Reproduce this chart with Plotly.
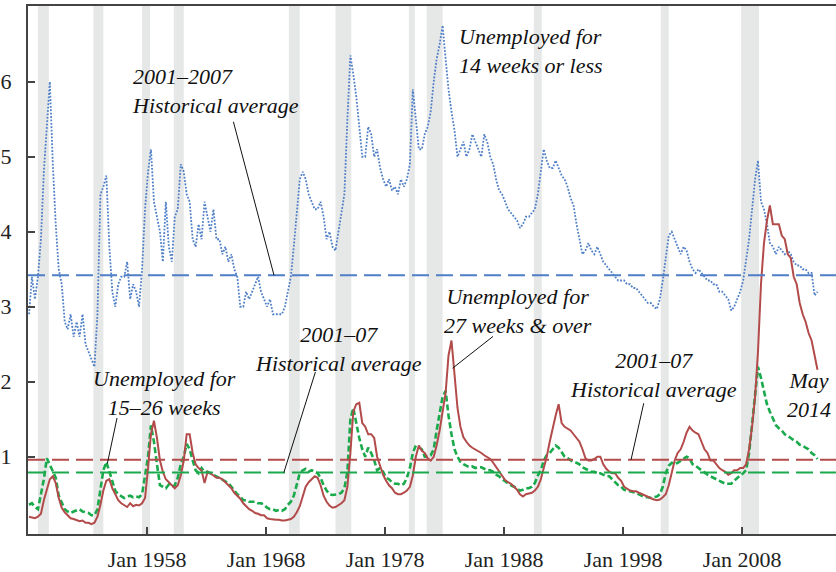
import pandas as pd
import plotly.graph_objects as go

# quarterly readings (Feb, May, Aug, Nov), % of labour force
dates = pd.date_range("1948-02-01", "2014-05-01", freq="3MS")

short_term = [  # unemployed 14 weeks or less
    2.9, 3.4, 3.1, 3.4,   3.9, 4.8, 5.4, 6.0,   4.9, 4.1, 3.5, 3.3,
    2.8, 2.7, 2.9, 2.6,   2.8, 2.6, 2.9, 2.5,   2.4, 2.3, 2.2, 2.9,
    4.5, 4.6, 4.75, 3.8,  3.2, 3.0, 3.3, 3.4,   3.4, 3.6, 3.1, 3.3,
    3.2, 3.0, 3.5, 4.3,   4.8, 5.1, 4.4, 4.2,   4.0, 3.6, 4.4, 3.8,
    3.6, 4.2, 4.3, 4.9,   4.8, 4.5, 4.4, 3.9,   3.8, 4.1, 3.9, 4.4,
    4.2, 4.0, 4.3, 3.9,   3.9, 3.7, 3.8, 3.6,   3.7, 3.5, 3.4, 3.0,
    3.0, 3.2, 3.1, 3.2,   3.3, 3.4, 3.2, 3.1,   3.0, 3.1, 2.9, 2.9,
    2.9, 2.9, 3.0, 3.2,   3.4, 3.8, 4.2, 4.7,   4.8, 4.7, 4.5, 4.4,
    4.3, 4.3, 4.4, 4.2,   3.9, 4.0, 3.8, 3.75,  4.0, 4.3, 4.5, 5.5,
    6.35, 6.1, 5.8, 5.4,  5.0, 5.0, 5.4, 5.3,   5.0, 5.1, 4.85, 4.7,
    4.6, 4.7, 4.55, 4.6,  4.5, 4.7, 4.6, 4.7,   4.9, 5.9, 5.5, 5.1,
    5.1, 5.3, 5.4, 5.6,   6.0, 6.3, 6.5, 6.75,  6.3, 5.9, 5.6, 5.35,
    5.0, 5.1, 5.2, 5.0,   5.1, 5.3, 5.2, 5.1,   5.0, 5.3, 5.2, 5.0,
    4.9, 4.7, 4.55, 4.5,  4.4, 4.3, 4.25, 4.2,  4.15, 4.05, 4.1, 4.2,
    4.2, 4.25, 4.3, 4.5,  4.8, 5.1, 4.95, 4.85, 4.85, 4.95, 4.85, 4.75,
    4.7, 4.6, 4.45, 4.35, 4.1, 3.9, 3.7, 3.75,  3.85, 3.75, 3.7, 3.8,
    3.7, 3.6, 3.55, 3.5,  3.45, 3.4, 3.35, 3.35, 3.35, 3.3, 3.3, 3.25,
    3.25, 3.2, 3.15, 3.1, 3.05, 3.05, 3.0, 2.97, 3.1, 3.35, 3.65, 3.95,
    4.0, 3.9, 3.8, 3.7,   3.8, 3.75, 3.6, 3.5,  3.45, 3.5, 3.45, 3.4,
    3.35, 3.35, 3.3, 3.3, 3.2, 3.2, 3.15, 3.1,  2.95, 3.0, 3.1, 3.2,
    3.35, 3.6, 3.9, 4.3,  4.7, 4.95, 4.4, 4.3,  4.1, 3.85, 3.8, 3.7,
    3.8, 3.75, 3.7, 3.75, 3.7, 3.6, 3.55, 3.55, 3.5, 3.5, 3.45, 3.45,
    3.15, 3.2,
]

mid_term = [  # unemployed 15-26 weeks
    0.36, 0.38, 0.33, 0.3,  0.5, 0.7, 0.98, 0.9,   0.82, 0.72, 0.48, 0.38,
    0.3, 0.27, 0.25, 0.27,  0.28, 0.3, 0.27, 0.26, 0.25, 0.22, 0.22, 0.3,
    0.55, 0.82, 0.93, 0.8,  0.66, 0.55, 0.5, 0.47, 0.45, 0.47, 0.48, 0.46,
    0.47, 0.46, 0.5, 0.75,  1.0, 1.42, 1.2, 0.9,   0.62, 0.6, 0.58, 0.63,
    0.6, 0.62, 0.72, 0.9,   1.0, 1.17, 1.1, 0.95,  0.82, 0.78, 0.85, 0.8,
    0.8, 0.78, 0.76, 0.74,  0.72, 0.7, 0.68, 0.65, 0.6, 0.55, 0.5, 0.47,
    0.42, 0.42, 0.4, 0.4,   0.4, 0.38, 0.38, 0.36, 0.32, 0.3, 0.3, 0.28,
    0.29, 0.28, 0.3, 0.36,  0.4, 0.48, 0.62, 0.78, 0.82, 0.84, 0.8, 0.82,
    0.8, 0.78, 0.72, 0.62,  0.55, 0.5, 0.49, 0.5,  0.5, 0.52, 0.58, 0.8,
    1.5, 1.65, 1.45, 1.25,  1.1, 1.0, 1.12, 1.05,  0.95, 0.82, 0.85, 0.8,
    0.72, 0.7, 0.66, 0.64,  0.64, 0.62, 0.64, 0.72, 0.85, 1.05, 1.15, 1.12,
    1.1, 1.0, 1.0, 1.02,    1.1, 1.35, 1.6, 1.8,   1.88, 1.55, 1.3, 1.1,
    1.0, 0.93, 0.9, 0.88,   0.86, 0.87, 0.85, 0.86, 0.86, 0.84, 0.82, 0.82,
    0.8, 0.76, 0.74, 0.7,   0.67, 0.64, 0.62, 0.6, 0.58, 0.55, 0.56, 0.58,
    0.58, 0.6, 0.65, 0.75,  0.82, 0.95, 1.02, 1.05, 1.1, 1.15, 1.12, 1.05,
    1.0, 0.98, 0.95, 0.93,  0.92, 0.9, 0.86, 0.84, 0.82, 0.8, 0.8, 0.78,
    0.78, 0.76, 0.74, 0.74, 0.7, 0.66, 0.62, 0.6,  0.56, 0.55, 0.54, 0.52,
    0.52, 0.5, 0.48, 0.46,  0.46, 0.45, 0.46, 0.47, 0.5, 0.6, 0.78, 0.88,
    0.92, 0.9, 0.92, 0.95,  0.98, 1.0, 0.98, 0.9,  0.88, 0.85, 0.82, 0.78,
    0.76, 0.74, 0.72, 0.7,  0.68, 0.66, 0.64, 0.64, 0.64, 0.68, 0.72, 0.75,
    0.78, 0.82, 1.05, 1.45, 1.85, 2.2, 2.05, 1.85, 1.7, 1.6, 1.5, 1.42,
    1.38, 1.35, 1.3, 1.28,  1.25, 1.22, 1.2, 1.16, 1.15, 1.12, 1.1, 1.05,
    1.02, 0.97,
]

long_term = [  # unemployed 27 weeks and over
    0.2, 0.19, 0.18, 0.2,   0.24, 0.42, 0.58, 0.7,  0.74, 0.65, 0.45, 0.32,
    0.26, 0.22, 0.18, 0.17, 0.16, 0.14, 0.15, 0.12, 0.12, 0.1, 0.12, 0.2,
    0.36, 0.55, 0.68, 0.7,  0.58, 0.5, 0.42, 0.38, 0.35, 0.33, 0.38, 0.34,
    0.36, 0.35, 0.38, 0.45, 0.85, 1.3, 1.48, 1.25, 0.95, 0.8, 0.7, 0.66,
    0.62, 0.58, 0.62, 0.75, 0.95, 1.3, 1.3, 1.05,  0.9, 0.85, 0.82, 0.65,
    0.8, 0.78, 0.75, 0.72,  0.72, 0.7, 0.66, 0.62, 0.58, 0.52, 0.48, 0.44,
    0.38, 0.34, 0.3, 0.28,  0.25, 0.24, 0.22, 0.22, 0.18, 0.17, 0.16, 0.16,
    0.16, 0.15, 0.15, 0.16, 0.17, 0.2, 0.26, 0.34, 0.48, 0.6, 0.66, 0.7,
    0.74, 0.72, 0.62, 0.48, 0.4, 0.35, 0.32, 0.33, 0.35, 0.38, 0.42, 0.6,
    1.05, 1.6, 1.7, 1.72,   1.45, 1.4, 1.3, 1.3,   1.25, 1.0, 0.88, 0.76,
    0.68, 0.62, 0.58, 0.52, 0.5, 0.5, 0.52, 0.55,  0.6, 0.75, 1.0, 1.15,
    1.08, 1.05, 0.98, 0.95, 1.0, 1.15, 1.35, 1.6,  1.85, 2.35, 2.55, 2.1,
    1.65, 1.4, 1.26, 1.2,   1.15, 1.12, 1.1, 1.08, 1.05, 1.02, 1.0, 0.97,
    0.92, 0.86, 0.8, 0.74,  0.69, 0.66, 0.64, 0.6, 0.56, 0.5, 0.47, 0.5,
    0.51, 0.52, 0.55, 0.6,  0.7, 0.85, 1.0, 1.2,   1.4, 1.55, 1.7, 1.45,
    1.4, 1.37, 1.35, 1.3,   1.25, 1.2, 1.1, 0.98,  0.95, 0.95, 0.97, 1.0,
    1.0, 0.9, 0.84, 0.8,    0.78, 0.78, 0.72, 0.68, 0.6, 0.57, 0.55, 0.54,
    0.54, 0.52, 0.5, 0.49,  0.47, 0.45, 0.43, 0.42, 0.43, 0.46, 0.5, 0.62,
    0.78, 0.95, 1.05, 1.1,  1.2, 1.32, 1.4, 1.35,  1.32, 1.3, 1.2, 1.1,
    1.05, 0.95, 0.95, 0.9,  0.85, 0.82, 0.8, 0.76, 0.78, 0.82, 0.82, 0.85,
    0.85, 0.9, 1.1, 1.4,    1.8, 2.4, 3.3, 3.85,   4.15, 4.35, 4.1, 4.1,
    4.1, 3.95, 3.9, 3.7,    3.65, 3.4, 3.3, 3.05,  2.9, 2.8, 2.65, 2.55,
    2.35, 2.16,
]

avg_short = 3.42   # 2001-2007 averages
avg_mid = 0.79
avg_long = 0.96

recessions = [
    ("1948-11-01", "1949-10-01"), ("1953-07-01", "1954-05-01"),
    ("1957-08-01", "1958-04-01"), ("1960-04-01", "1961-02-01"),
    ("1969-12-01", "1970-11-01"), ("1973-11-01", "1975-03-01"),
    ("1980-01-01", "1980-07-01"), ("1981-07-01", "1982-11-01"),
    ("1990-07-01", "1991-03-01"), ("2001-03-01", "2001-11-01"),
    ("2007-12-01", "2009-06-01"),
]

tick_dates = ["1958-01-01", "1968-01-01", "1978-01-01",
              "1988-01-01", "1998-01-01", "2008-01-01"]
tick_text = ["Jan 1958", "Jan 1968", "Jan 1978", "Jan 1988", "Jan 1998", "Jan 2008"]

assert len(short_term) == len(dates) == len(mid_term) == len(long_term)

BLUE = "#4f7fc6"
RED = "#b24b4a"
GREEN = "#1aaa4c"
SERIF = "Liberation Serif"

W, H = 836, 572
ML, MR, MT, MB = 28, 0, 6, 31

fig = go.Figure()
fig.add_trace(go.Scatter(x=dates, y=short_term, mode="lines",
                         line=dict(color=BLUE, width=1.8, dash="1.8px,1.6px")))
fig.add_trace(go.Scatter(x=dates, y=mid_term, mode="lines",
                         line=dict(color=GREEN, width=2.6, dash="6px,3px")))
fig.add_trace(go.Scatter(x=dates, y=long_term, mode="lines",
                         line=dict(color=RED, width=2)))

for a, b in recessions:
    fig.add_vrect(x0=a, x1=b, fillcolor="#e6e7e7", line_width=0, layer="below")

for val, col in [(avg_short, BLUE), (avg_long, RED), (avg_mid, GREEN)]:
    fig.add_hline(y=val, line=dict(color=col, width=2, dash="17px,7px"))


def px2paper(px, py):
    return (px - ML) / (W - ML - MR), (H - MB - py) / (H - MT - MB)


labels = [  # text, x px, y px, anchor
    ("2001–2007<br>Historical average", 130, 92, "left"),
    ("Unemployed for<br>14 weeks or less", 457, 52, "left"),
    ("Unemployed for<br>15–26 weeks", 164, 398, "center"),
    ("2001–07<br>Historical average", 338, 354, "center"),
    ("Unemployed for<br>27 weeks & over", 518, 315, "center"),
    ("2001–07<br>Historical average", 653, 380, "center"),
    ("May<br>2014", 809, 400, "center"),
]
for txt, px, py, anc in labels:
    xp, yp = px2paper(px, py)
    fig.add_annotation(text=txt, x=xp, y=yp, xref="paper", yref="paper",
                       xanchor=anc, yanchor="middle", align=anc, showarrow=False,
                       font=dict(family=SERIF, size=22, color="#111", style="italic"))

# leader lines: (point on chart, offset of the free end in px)
leaders = [
    ("1968-09-01", avg_short, -41, -155),
    ("1954-09-01", 0.91, 10, -47),
    ("1969-07-01", avg_mid, 32, -102),
    ("1983-09-01", 2.18, 42, -33),
    ("1998-09-01", avg_long, 13, -58),
]
for x, y, ax, ay in leaders:
    fig.add_annotation(x=x, y=y, text="", showarrow=True, arrowhead=0,
                       arrowwidth=1, arrowcolor="#111", ax=ax, ay=ay,
                       standoff=0, startstandoff=0)

fig.update_layout(
    width=W, height=H,
    margin=dict(l=ML, r=MR, t=MT, b=MB),
    paper_bgcolor="white", plot_bgcolor="white",
    showlegend=False,
    font=dict(family=SERIF, size=22, color="#222"),
)
fig.update_xaxes(
    type="date", range=["1948-01-01", "2015-11-20"],
    tickvals=tick_dates, ticktext=tick_text,
    ticks="inside", ticklen=7, tickwidth=1.5, tickcolor="#444",
    showline=True, linecolor="#444", linewidth=2, mirror=True,
    showgrid=False, zeroline=False, ticklabelstandoff=5,
)
fig.update_yaxes(
    range=[-0.03, 7.01], tickvals=[1, 2, 3, 4, 5, 6],
    ticks="inside", ticklen=7, tickwidth=1.5, tickcolor="#444",
    showline=True, linecolor="#444", linewidth=2,
    showgrid=False, zeroline=False, ticklabelstandoff=10,
)

fig.write_html("out.html", config=dict(displayModeBar=False),
               post_script="document.body.style.margin='0';document.body.style.padding='0';")
